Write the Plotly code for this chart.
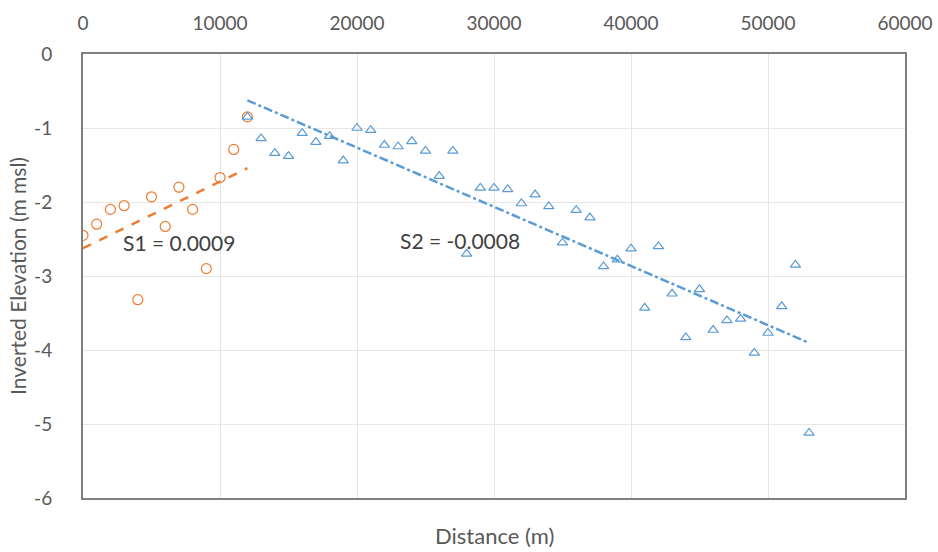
import numpy as np
import plotly.graph_objects as go

# Section 1: upstream reach (0 - 12 km)
s1_distance = [0, 1000, 2000, 3000, 4000, 5000, 6000, 7000, 8000, 9000, 10000, 11000, 12000]
s1_elevation = [-2.45, -2.30, -2.10, -2.05, -3.32, -1.93, -2.33, -1.80, -2.10, -2.90, -1.67, -1.29, -0.85]

# Section 2: downstream reach (12 - 53 km)
s2_distance = list(range(12000, 54000, 1000))
s2_elevation = [-0.85, -1.14, -1.34, -1.38, -1.07, -1.19, -1.11, -1.44, -1.00, -1.03,
                -1.23, -1.25, -1.18, -1.31, -1.65, -1.31, -2.70, -1.81, -1.81, -1.83,
                -2.02, -1.90, -2.06, -2.55, -2.11, -2.21, -2.87, -2.78, -2.63, -3.43,
                -2.60, -3.24, -3.83, -3.18, -3.73, -3.60, -3.58, -4.04, -3.77, -3.41,
                -2.85, -5.12]

x_ticks = [0, 10000, 20000, 30000, 40000, 50000, 60000]
x_tick_text = ["0", "10000", "20000", "30000", "40000", "50000", "60000"]
y_ticks = [0, -1, -2, -3, -4, -5, -6]
y_tick_text = ["0", "-1", "-2", "-3", "-4", "-5", "-6"]

ORANGE = "#ED7D31"
BLUE = "#5B9BD5"
TEXT = "#595959"
FONT = "Lato"

# linear trend lines for each reach
s1_fit = np.polyfit(s1_distance, s1_elevation, 1)
s2_fit = np.polyfit(s2_distance, s2_elevation, 1)
s1_tx = [s1_distance[0], s1_distance[-1]]
s2_tx = [s2_distance[0], s2_distance[-1]]

fig = go.Figure()
fig.add_trace(go.Scatter(
    x=s1_tx, y=np.polyval(s1_fit, s1_tx), mode="lines",
    line=dict(color=ORANGE, width=2.5, dash="dash"), hoverinfo="skip"))
fig.add_trace(go.Scatter(
    x=s2_tx, y=np.polyval(s2_fit, s2_tx), mode="lines",
    line=dict(color=BLUE, width=2.5, dash="dashdot"), hoverinfo="skip"))
fig.add_trace(go.Scatter(
    x=s1_distance, y=s1_elevation, mode="markers",
    marker=dict(symbol="circle-open", size=10, color=ORANGE, line=dict(width=1.2))))
fig.add_trace(go.Scatter(
    x=s2_distance, y=s2_elevation, mode="markers",
    marker=dict(symbol="triangle-up-open", size=9, color=BLUE, line=dict(width=1.2))))

fig.add_annotation(x=7000, y=-2.55, text="S1 = 0.0009", showarrow=False,
                   font=dict(family=FONT, size=21, color="#404040"))
fig.add_annotation(x=27500, y=-2.52, text="S2 = -0.0008", showarrow=False,
                   font=dict(family=FONT, size=21, color="#404040"))
fig.add_annotation(xref="paper", yref="paper", x=0.5, y=-0.05, yanchor="top",
                   text="Distance (m)", showarrow=False,
                   font=dict(family=FONT, size=22, color=TEXT))

fig.update_layout(
    width=938, height=552,
    margin=dict(l=83, r=33, t=54, b=54),
    paper_bgcolor="white", plot_bgcolor="white",
    showlegend=False,
    font=dict(family=FONT, color=TEXT),
    xaxis=dict(range=[0, 60000], side="top", tickvals=x_ticks, ticktext=x_tick_text,
               tickfont=dict(size=19, color=TEXT), ticks="", ticklabelstandoff=14,
               automargin=False,
               showgrid=True, gridcolor="#E6E6E6", gridwidth=1, zeroline=False,
               showline=True, linecolor="#7F7F7F", linewidth=2, mirror=True),
    yaxis=dict(range=[-6, 0], tickvals=y_ticks, ticktext=y_tick_text,
               tickfont=dict(size=19, color=TEXT), ticks="", ticklabelstandoff=25,
               automargin=False,
               showgrid=True, gridcolor="#E6E6E6", gridwidth=1, zeroline=False,
               showline=True, linecolor="#7F7F7F", linewidth=2, mirror=True,
               title=dict(text="Inverted Elevation (m msl)", standoff=2,
                          font=dict(family=FONT, size=21, color=TEXT))),
)

fig.write_html("out.html")
